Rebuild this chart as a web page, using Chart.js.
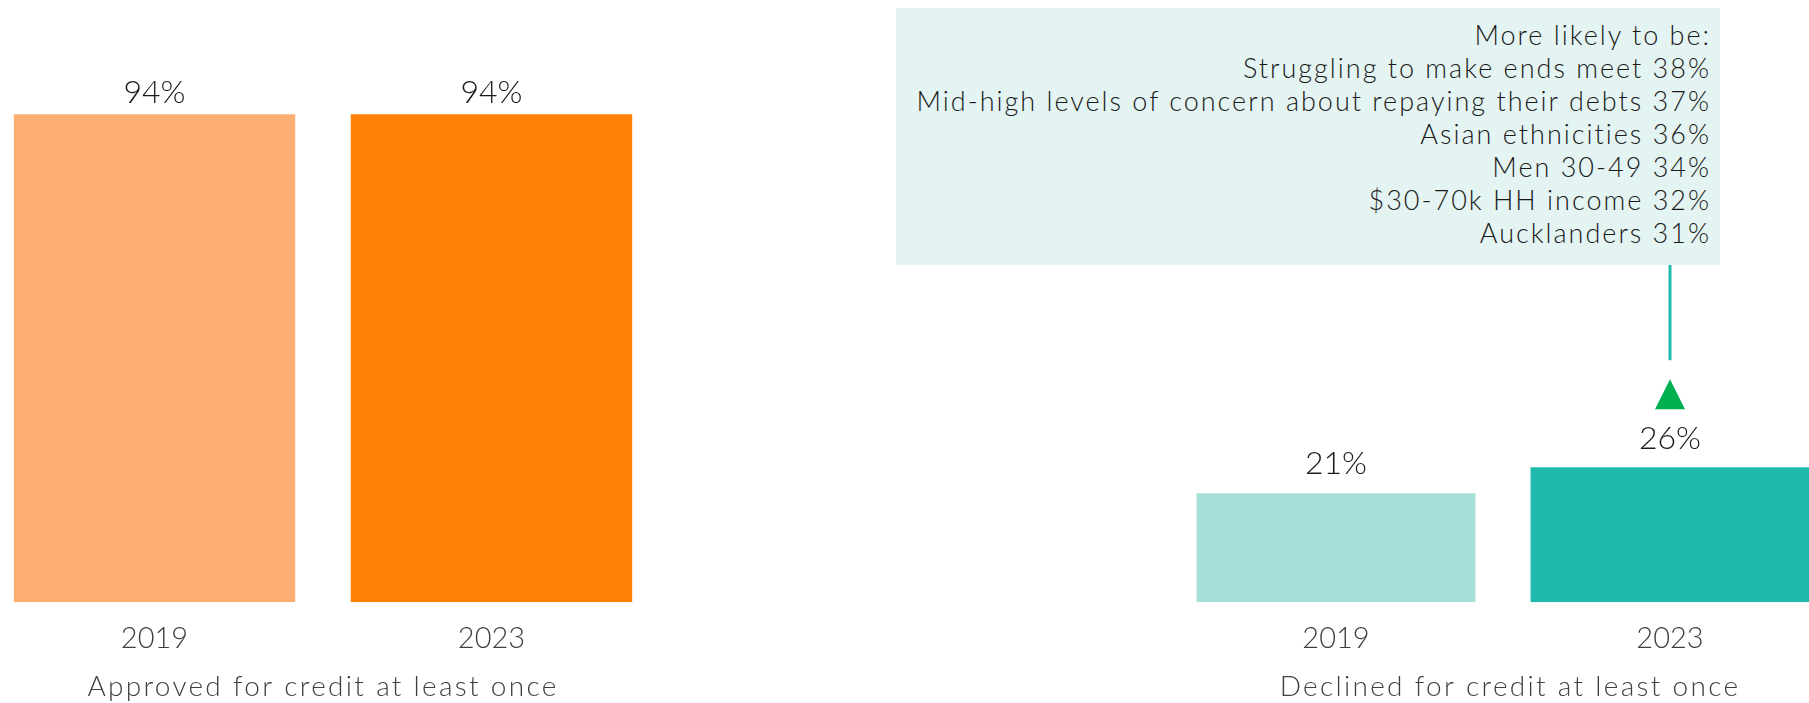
<!DOCTYPE html>
<html>
<head>
<meta charset="utf-8">
<script src="https://cdn.jsdelivr.net/npm/chart.js@4"></script>
<style>
  html, body { margin: 0; padding: 0; background: #fff; }
  body { width: 1809px; height: 703px; overflow: hidden; position: relative; font-family: Lato, sans-serif; }
  .wrap { position: absolute; top: 0; height: 703px; }
  #leftWrap { left: -14px; width: 674px; }
  #rightWrap { left: 1169px; width: 668px; }
  #callout {
    position: absolute; left: 896px; top: 8px; width: 824px; height: 257px;
    background: #e4f4f3; box-sizing: border-box; padding: 10px 9px 0 0;
    text-align: right; font-size: 27px; font-weight: 300; line-height: 33px;
    letter-spacing: 2px; color: #1a1a1a;
  }
</style>
</head>
<body>
<div id="leftWrap" class="wrap"><canvas id="approved"></canvas></div>
<div id="rightWrap" class="wrap"><canvas id="declined"></canvas></div>
<div id="callout"></div>
<script>
const years = ['2019', '2023'];
const approvedValues = [94, 94];
const declinedValues = [21, 26];
const approvedTitle = 'Approved for credit at least once';
const declinedTitle = 'Declined for credit at least once';
const calloutLines = [
  'More likely to be:',
  'Struggling to make ends meet 38%',
  'Mid-high levels of concern about repaying their debts 37%',
  'Asian ethnicities 36%',
  'Men 30-49 34%',
  '$30-70k HH income 32%',
  'Aucklanders 31%'
];

document.getElementById('callout').innerHTML = calloutLines.join('<br>');

const FONT = 'Lato, sans-serif';

// value labels above each bar
const barLabels = {
  id: 'barLabels',
  afterDatasetsDraw(chart, args, opts) {
    const ctx = chart.ctx;
    const values = chart.data.datasets[0].data;
    ctx.save();
    ctx.font = '300 32px ' + FONT;
    ctx.fillStyle = '#1a1a1a';
    ctx.textAlign = 'center';
    ctx.textBaseline = 'middle';
    chart.getDatasetMeta(0).data.forEach((bar, i) => {
      ctx.fillText(values[i] + '%', bar.x, bar.y - opts.gap);
    });
    ctx.restore();
  }
};

// caption under the year labels (drawn here so it can be letter-spaced)
const caption = {
  id: 'caption',
  afterDraw(chart, args, opts) {
    const ctx = chart.ctx;
    const a = chart.chartArea;
    ctx.save();
    ctx.font = '300 28px ' + FONT;
    ctx.letterSpacing = '2.3px';
    ctx.fillStyle = '#404040';
    ctx.textAlign = 'center';
    ctx.textBaseline = 'middle';
    ctx.fillText(opts.text, (a.left + a.right) / 2 + opts.dx, chart.height - 16);
    ctx.restore();
  }
};

// line from the callout box down to an up-arrow over the 2023 bar
const connector = {
  id: 'connector',
  afterDatasetsDraw(chart, args, opts) {
    if (!opts.enabled) return;
    const bar = chart.getDatasetMeta(0).data[1];
    const ctx = chart.ctx;
    ctx.save();
    ctx.strokeStyle = '#20b9ae';
    ctx.lineWidth = 3;
    ctx.beginPath();
    ctx.moveTo(bar.x, 265);
    ctx.lineTo(bar.x, bar.y - 107);
    ctx.stroke();
    ctx.fillStyle = '#00b050';
    ctx.beginPath();
    ctx.moveTo(bar.x, bar.y - 88);
    ctx.lineTo(bar.x + 15, bar.y - 58);
    ctx.lineTo(bar.x - 15, bar.y - 58);
    ctx.closePath();
    ctx.fill();
    ctx.restore();
  }
};

function makeChart(id, values, colors, title, gap, dx, arrow) {
  return new Chart(document.getElementById(id), {
    type: 'bar',
    data: {
      labels: years,
      datasets: [{
        data: values,
        backgroundColor: colors,
        categoryPercentage: 1,
        barPercentage: 0.835
      }]
    },
    options: {
      responsive: true,
      maintainAspectRatio: false,
      animation: false,
      layout: { padding: { top: 83, bottom: 28, left: 0, right: 0 } },
      plugins: {
        legend: { display: false },
        tooltip: { enabled: false },
        barLabels: { gap: gap },
        caption: { text: title, dx: dx },
        connector: { enabled: arrow }
      },
      scales: {
        x: {
          grid: { display: false, drawTicks: false },
          border: { display: false },
          ticks: { color: '#404040', padding: 19, font: { family: FONT, size: 29, weight: 300 } }
        },
        y: { display: false, min: 0, max: 100 }
      }
    },
    plugins: [barLabels, caption, connector]
  });
}

makeChart('approved', approvedValues, ['#fdaf73', '#ff7f07'], approvedTitle, 21, 0, false);
makeChart('declined', declinedValues, ['#a6dfd9', '#20b9ae'], declinedTitle, 29, 7, true);
</script>
</body>
</html>
